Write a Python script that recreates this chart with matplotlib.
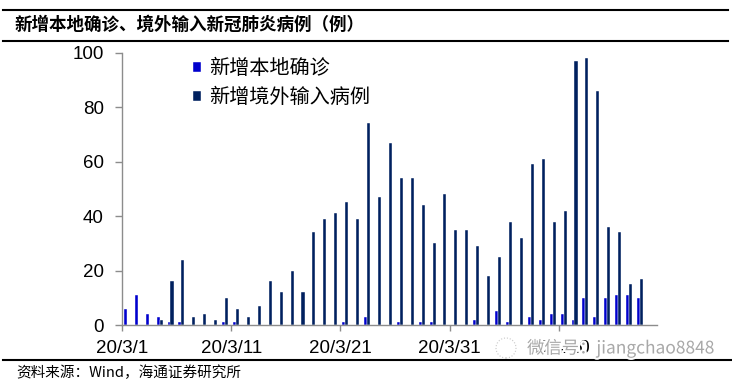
import matplotlib
matplotlib.use("Agg")
import matplotlib.pyplot as plt
import matplotlib.patheffects as pe
import numpy as np

plt.rcParams['font.family'] = ['Liberation Sans', 'Noto Sans CJK SC', 'DejaVu Sans']

# daily counts, 2020-03-01 .. 2020-04-17
local_cases = [6, 11, 4, 3, 1, 1, 0, 0, 0, 1,
               1, 0, 0, 0, 0, 0, 0, 0, 0, 0,
               1, 0, 3, 0, 0, 1, 0, 1, 1, 0,
               0, 0, 2, 0, 5, 1, 0, 3, 2, 4,
               4, 2, 10, 3, 10, 11, 11, 10]
imported_cases = [0, 0, 0, 2, 16, 24, 3, 4, 2, 10,
                  6, 3, 7, 16, 12, 20, 12, 34, 39, 41,
                  45, 39, 74, 47, 67, 54, 54, 44, 30, 48,
                  35, 35, 29, 18, 25, 38, 32, 59, 61, 38,
                  42, 97, 98, 86, 36, 34, 15, 17]
n_slots = 49  # axis runs one empty day past the data
tick_labels = ['20/3/1', '20/3/11', '20/3/21', '20/3/31', '20/4/10']
legend_labels = ['新增本地确诊', '新增境外输入病例']

fig = plt.figure(figsize=(7.32, 3.83), dpi=100)
ax = fig.add_axes([122 / 732, 1 - 325 / 383, 535 / 732, (325 - 52.7) / 383])

x = np.arange(len(local_cases))
ax.bar(x + 0.31, local_cases, width=0.28, color='#0000CD',
       edgecolor='white', linewidth=0.3, label=legend_labels[0])
ax.bar(x + 0.58, imported_cases, width=0.28, color='#00205F',
       edgecolor='white', linewidth=0.3, label=legend_labels[1])

ax.set_xlim(0, n_slots)
ax.set_ylim(0, 100)
ax.set_yticks(range(0, 101, 20))
ax.set_xticks([0, 10, 20, 30, 40])
ax.set_xticklabels(tick_labels)

for s in ['top', 'right']:
    ax.spines[s].set_visible(False)
for s in ['left', 'bottom']:
    ax.spines[s].set_color('#8c8c8c')
    ax.spines[s].set_linewidth(1.0)
ax.tick_params(axis='y', direction='out', length=5, width=1, color='#8c8c8c',
               labelsize=13.5, pad=8)
ax.tick_params(axis='x', direction='out', length=4.5, width=1, color='#8c8c8c',
               labelsize=13.5, pad=6)

ax.legend(loc='upper left', bbox_to_anchor=(0.117, 1.01), frameon=False,
          prop={'family': 'Noto Sans CJK SC', 'size': 14.5},
          handlelength=0.42, handleheight=0.42, handletextpad=0.4,
          labelspacing=0.4, borderaxespad=0)

# title and rules
fig.text(15 / 732, 1 - 25 / 383, '新增本地确诊、境外输入新冠肺炎病例（例）',
         family='Noto Sans CJK SC', fontweight='bold', fontsize=12.6,
         va='center', ha='left')
fig.add_artist(plt.Line2D([3 / 732, 728 / 732], [1 - 10 / 383] * 2, color='black', lw=1.5))
fig.add_artist(plt.Line2D([3 / 732, 728 / 732], [1 - 41 / 383] * 2, color='black', lw=1.5))
fig.add_artist(plt.Line2D([3 / 732, 1.0], [1 - 360 / 383] * 2, color='black', lw=1.5))

fig.text(16 / 732, 1 - 373 / 383, '资料来源：Wind，海通证券研究所',
         family=['Noto Sans CJK SC', 'DejaVu Sans'], fontsize=10.5,
         va='center', ha='left')

# watermark
fig.text(527 / 732, 1 - 348 / 383, '微信号：jiangchao8848',
         family=['Noto Sans CJK SC', 'DejaVu Sans'], fontsize=12.5,
         color='#a8a8a8', va='center', ha='left',
         path_effects=[pe.withStroke(linewidth=3, foreground='white')])
fig.add_artist(matplotlib.patches.Ellipse((506 / 732, 1 - 348 / 383), 20 / 732, 20 / 383,
                                          fill=False, ec='#c8c8c8', lw=0.8, ls=':'))

fig.savefig('out.png', dpi=100)
